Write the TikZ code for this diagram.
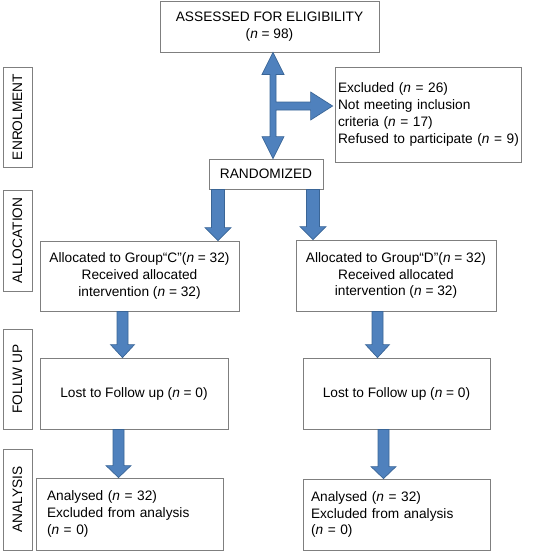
\documentclass[tikz,border=0pt]{standalone}
\usepackage{fontspec}
\setmainfont{Liberation Sans}
\usetikzlibrary{calc}
\definecolor{arrowfill}{HTML}{4F81BD}
\definecolor{arrowline}{HTML}{3A6596}
\definecolor{boxline}{HTML}{7F7F7F}
\newcommand{\blockdown}[5]{%
  \filldraw[blockarrow] let \p1=(#1), \p2=(#2) in
    (\x1-#3,\y1) -- (\x1-#3,\y2+#5) -- (\x1-#4,\y2+#5) -- (\x1,\y2)
    -- (\x1+#4,\y2+#5) -- (\x1+#3,\y2+#5) -- (\x1+#3,\y1) -- cycle;}
\begin{document}
\begin{tikzpicture}[x=1pt,y=-1pt,
  every node/.style={font=\fontsize{13.7}{16.8}\selectfont},
  box/.style={draw=boxline, line width=0.8pt, fill=white, inner sep=0pt, align=center},
  lbox/.style={draw=boxline, line width=0.8pt, fill=white, inner sep=0pt, align=left},
  sidelabel/.style={draw=boxline, line width=0.8pt, inner sep=0pt, rotate=90,
    minimum width=#1, minimum height=29pt},
  blockarrow/.style={fill=arrowfill, draw=arrowline, line width=0.7pt, line join=miter}]
\useasboundingbox (0,0) rectangle (539,551);

% side labels
\node[sidelabel=100pt] (lenrol) at (17.5,117) {ENROLMENT};
\node[sidelabel=101pt] (lalloc) at (17.5,240.5) {ALLOCATION};
\node[sidelabel=100pt] (lfollow) at (17.5,379) {FOLLW UP};
\node[sidelabel=101pt] (lanal) at (17.5,499.5) {ANALYSIS};

% main boxes
\node[box, minimum width=219pt, minimum height=51pt] (assess) at (269.5,26.5)
  {ASSESSED FOR ELIGIBILITY\\(\textit{n} = 98)};
\node[lbox, minimum width=186pt, minimum height=95pt, text width=180pt] (excl) at (428,114.5)
  {Excluded (\textit{n} = 26)\\Not meeting inclusion\\criteria (\textit{n} = 17)\\\mbox{Refused to participate (\textit{n} = 9)}};
\node[box, minimum width=114pt, minimum height=30pt] (rand) at (266,174) {RANDOMIZED};

\node[box, minimum width=199pt, minimum height=70pt] (allocC) at (139.5,276)
  {Allocated to Group“C”(\textit{n} = 32)\\Received allocated\\intervention (\textit{n} = 32)};
\node[box, minimum width=200pt, minimum height=71pt] (allocD) at (396,275.5)
  {Allocated to Group“D”(\textit{n} = 32)\\Received allocated\\intervention (\textit{n} = 32)};

\node[box, minimum width=188pt, minimum height=71pt] (lostC) at (134,393.5)
  {Lost to Follow up (\textit{n} = 0)};
\node[box, minimum width=187pt, minimum height=71pt] (lostD) at (396.5,393.5)
  {Lost to Follow up (\textit{n} = 0)};

\node[lbox, minimum width=187pt, minimum height=72pt, text width=165pt] (anaC) at (129.5,514)
  {Analysed (\textit{n} = 32)\\Excluded from analysis\\(\textit{n} = 0)};
\node[lbox, minimum width=187pt, minimum height=71pt, text width=171pt] (anaD) at (396.5,514.5)
  {Analysed (\textit{n} = 32)\\Excluded from analysis\\(\textit{n} = 0)};

% enrolment double arrow with branch
\coordinate (dt) at ($(assess.south)+(3.5,0)$);
\coordinate (db) at (dt |- rand.north);
\coordinate (ht) at ($(excl.west)+(-2,-8.5)$);
\filldraw[blockarrow] let \p1=(dt), \p2=(db), \p3=(ht) in
  (\x1,\y1) -- (\x1+11pt,\y1-22pt) -- (\x1+3pt,\y1-22pt)
  -- (\x1+3pt,\y3+4pt) -- (\x3-22pt,\y3+4pt) -- (\x3-22pt,\y3+14pt) -- (\x3,\y3)
  -- (\x3-22pt,\y3-14pt) -- (\x3-22pt,\y3-4pt) -- (\x1+3pt,\y3-4pt)
  -- (\x1+3pt,\y2+22pt) -- (\x1+11pt,\y2+22pt) -- (\x1,\y2)
  -- (\x1-11pt,\y2+22pt) -- (\x1-3pt,\y2+22pt)
  -- (\x1-3pt,\y1-22pt) -- (\x1-11pt,\y1-22pt) -- cycle;

% randomized -> groups
\coordinate (r1s) at ($(rand.south)+(-48,0)$);
\coordinate (r1t) at (r1s |- allocC.north);
\coordinate (r2s) at ($(rand.south)+(47,0)$);
\coordinate (r2t) at (r2s |- allocD.north);
\blockdown{r1s}{r1t}{6.5pt}{13pt}{13pt}
\blockdown{r2s}{r2t}{6.5pt}{13pt}{13pt}

% allocation -> follow up
\coordinate (a1s) at ($(allocC.south)+(-17,0)$);
\coordinate (a1t) at (a1s |- lostC.north);
\coordinate (a2s) at ($(allocD.south)+(-18.5,0)$);
\coordinate (a2t) at (a2s |- lostD.north);
\blockdown{a1s}{a1t}{5.5pt}{12pt}{13pt}
\blockdown{a2s}{a2t}{5.5pt}{12pt}{13pt}

% follow up -> analysis
\coordinate (f1s) at ($(lostC.south)+(-15.5,0)$);
\coordinate (f1t) at (f1s |- anaC.north);
\coordinate (f2s) at ($(lostD.south)+(-13,0)$);
\coordinate (f2t) at (f2s |- anaD.north);
\blockdown{f1s}{f1t}{5.5pt}{12.5pt}{12pt}
\blockdown{f2s}{f2t}{5.5pt}{12.5pt}{12pt}
\end{tikzpicture}
\end{document}
